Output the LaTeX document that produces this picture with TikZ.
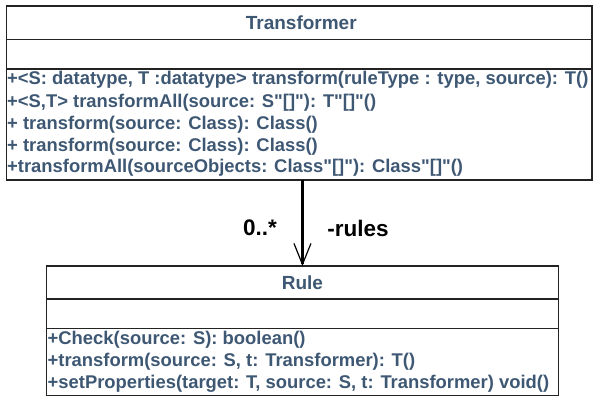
\documentclass[tikz,border=0pt]{standalone}
\usepackage{fontspec}
\setmainfont{Liberation Sans}[Ligatures=TeXOff]
\usetikzlibrary{arrows.meta}
\definecolor{umltext}{RGB}{62,88,116}
\definecolor{umlline}{RGB}{35,35,35}
\begin{document}
\begin{tikzpicture}[x=1pt,y=-1pt,
  compart/.style={draw=umlline,line width=1.4pt,rectangle,inner sep=0pt,outer sep=0pt,anchor=north west},
  title/.style={font=\fontsize{19}{19}\selectfont\bfseries,text=umltext},
  oper/.style={font=\fontsize{18.4}{18}\selectfont\bfseries,text=umltext,anchor=west,inner sep=0pt},
  rolelabel/.style={font=\fontsize{22.5}{22}\selectfont\bfseries,text=black}]
\useasboundingbox (0,0) rectangle (593,397);
\fill[white] (0,0) rectangle (593,397);
% Transformer class
\node[compart,minimum width=585.5pt,minimum height=33.5pt] (ttitle) at (6.5,6) {};
\node[compart,minimum width=585.5pt,minimum height=29.5pt] (tattr) at (6.5,39.5) {};
\node[compart,minimum width=585.5pt,minimum height=111pt] (tops) at (6.5,69) {};
\node[title] (tname) at ([xshift=2pt]ttitle.center) {Transformer};
\node[oper] (t1) at (7,80) {+<S: datatype, T :datatype> transform(ruleType : type, source): T()};
\node[oper] (t2) at (7,102.5) {+<S,T> transformAll(source: S"[]"): T"[]"()};
\node[oper] (t3) at (7,124.5) {+ transform(source: Class): Class()};
\node[oper] (t4) at (7,146.5) {+ transform(source: Class): Class()};
\node[oper] (t5) at (7,168) {+transformAll(sourceObjects: Class"[]"): Class"[]"()};
% Rule class
\node[compart,minimum width=511.5pt,minimum height=33pt] (rtitle) at (46.7,266) {};
\node[compart,minimum width=511.5pt,minimum height=29.7pt] (rattr) at (46.7,299) {};
\node[compart,minimum width=511.5pt,minimum height=67pt] (rops) at (46.7,328.7) {};
\node[title] (rname) at (rtitle.center) {Rule};
\node[oper] (r1) at (47.5,340) {+Check(source: S): boolean()};
\node[oper] (r2) at (47.5,361.7) {+transform(source: S, t: Transformer): T()};
\node[oper] (r3) at (47.5,383.3) {+setProperties(target: T, source: S, t: Transformer) void()};
% association
\draw[line width=3.6pt,-{Straight Barb[length=21pt,width=17pt,line width=1.2pt]}]
  (tops.south -| rtitle.north) -- (rtitle.north);
\node[rolelabel] (mult) at (260,228) {0..*};
\node[rolelabel] (role) at (358,228) {-rules};
\end{tikzpicture}
\end{document}
